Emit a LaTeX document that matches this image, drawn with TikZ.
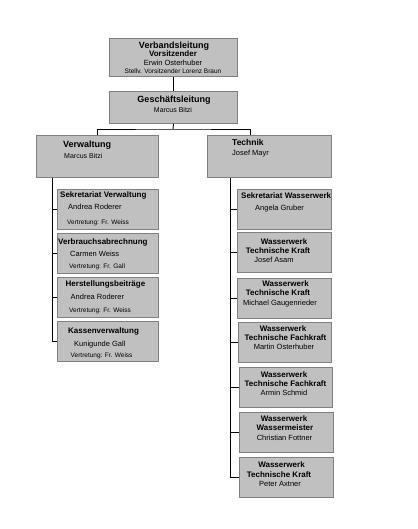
\documentclass[tikz,border=0pt]{standalone}
\usepackage{fontspec}
\setmainfont{Liberation Sans}
\usetikzlibrary{calc}
\definecolor{boxfill}{HTML}{C0C0C0}
\definecolor{boxline}{HTML}{808080}
\newcommand\fsz[1]{\fontsize{#1}{#1}\selectfont}
\tikzset{
  orgbox/.style={draw=boxline, fill=boxfill, line width=1pt, inner sep=0pt},
  link/.style={draw=black, line width=0.9pt},
  lbl/.style={inner sep=0pt, anchor=base west, text=black},
  clbl/.style={inner sep=0pt, anchor=base, text=black},
  ttl/.style={font=\fsz{9}\bfseries},
  sub/.style={font=\fsz{8}\bfseries},
  nm/.style={font=\fsz{7.5}},
  rep/.style={font=\fsz{6.5}}
}
\newcommand\orgrect[5]{% name, x1, y1, x2, y2
  \node[orgbox, minimum width={#4-#2}, minimum height={#5-#3}, anchor=north west] (#1) at (#2,#3) {};}
\begin{document}
\begin{tikzpicture}[x=1pt,y=-1pt]
\useasboundingbox (0,0) rectangle (417,529);
% boxes
\orgrect{vb}{109}{38}{237}{76}
\orgrect{gl}{109}{91}{237}{123}
\orgrect{vw}{36}{135}{158}{177}
\orgrect{tk}{207}{135}{331}{177}
\orgrect{sv}{57}{189}{158}{229}
\orgrect{va}{57}{233}{158}{273}
\orgrect{hb}{57}{277}{158}{317}
\orgrect{kv}{57}{321}{158}{361}
\orgrect{sw}{237}{189}{331}{229}
\orgrect{ja}{237}{232}{331}{272}
\orgrect{mg}{237}{278}{331}{318}
\orgrect{mo}{238}{322}{331}{362}
\orgrect{as}{239}{367}{332}{407}
\orgrect{cf}{239}{412}{333}{452}
\orgrect{pa}{239}{457}{333}{497}
% connectors
\coordinate (hj) at (173,129);
\coordinate (tkt) at ($(tk.north west)+(43,0)$);
\coordinate (vwb) at ($(vw.south west)+(16,0)$);
\coordinate (tkb) at ($(tk.south west)+(23,0)$);
\draw[link] (vb.south) -- (gl.north);
\draw[link] (gl.south) -- (hj);
\draw[link] (vw.north) |- (hj) -| (tkt);
\draw[link] (vwb) |- (kv.west);
\foreach \b in {sv,va,hb} { \draw[link] (\b.west) -- (\b.west -| vwb); }
\draw[link] (tkb) |- (pa.west);
\foreach \b in {sw,ja,mg,mo,as,cf} { \draw[link] (\b.west) -- (\b.west -| tkb); }
% top texts
\node[clbl, ttl] (t1) at (174,49) {Verbandsleitung};
\node[clbl, sub] (t2) at (173,57) {Vorsitzender};
\node[clbl, nm] (t3) at (173,65.5) {Erwin Osterhuber};
\node[clbl, rep] (t4) at (173,73.5) {Stellv. Vorsitzender Lorenz Braun};
\node[clbl, ttl] (t5) at (174,103) {Geschäftsleitung};
\node[clbl, font=\fsz{7}] (t6) at (173,113) {Marcus Bitzi};
% Verwaltung
\node[lbl, ttl] (t7) at (63,148) {Verwaltung};
\node[lbl, font=\fsz{7}] (t8) at (64,159) {Marcus Bitzi};
\node[lbl, sub] (t9) at (60,197.5) {Sekretariat Verwaltung};
\node[lbl, nm] (t10) at (68,209.5) {Andrea Roderer};
\node[lbl, rep] (t11) at (67,224.5) {Vertretung: Fr. Weiss};
\node[lbl, sub] (t12) at (58,244) {Verbrauchsabrechnung};
\node[lbl, nm] (t13) at (70,256.5) {Carmen Weiss};
\node[lbl, rep] (t14) at (69,268.5) {Vertretung: Fr. Gall};
\node[lbl, sub] (t15) at (65.5,286.5) {Herstellungsbeiträge};
\node[lbl, nm] (t16) at (70.5,299) {Andrea Roderer};
\node[lbl, rep] (t17) at (69,312.5) {Vertretung: Fr. Weiss};
\node[lbl, sub] (t18) at (68,333.5) {Kassenverwaltung};
\node[lbl, nm] (t19) at (74,346) {Kunigunde Gall};
\node[lbl, rep] (t20) at (70.5,357) {Vertretung: Fr. Weiss};
% Technik
\node[lbl, font=\fsz{8.5}\bfseries] (t21) at (232,146) {Technik};
\node[lbl, font=\fsz{7.5}] (t22) at (232,156) {Josef Mayr};
\node[lbl, sub] (t23) at (241,198) {Sekretariat Wasserwerk};
\node[lbl, nm] (t24) at (255,210) {Angela Gruber};
\node[clbl, sub] (t25) at (284,244.3) {Wasserwerk};
\node[clbl, sub] (t26) at (278,253.3) {Technische Kraft};
\node[clbl, nm] (t27) at (274,262.3) {Josef Asam};
\node[clbl, sub] (t28) at (285.5,286.7) {Wasserwerk};
\node[clbl, sub] (t29) at (278,295.7) {Technische Kraft};
\node[clbl, nm] (t30) at (280,305) {Michael Gaugenrieder};
\node[clbl, sub] (t31) at (283,331.7) {Wasserwerk};
\node[clbl, sub] (t32) at (285.5,340.7) {Technische Fachkraft};
\node[clbl, nm] (t33) at (284,349.3) {Martin Osterhuber};
\node[clbl, sub] (t34) at (284,377.3) {Wasserwerk};
\node[clbl, sub] (t35) at (285.5,386.7) {Technische Fachkraft};
\node[clbl, nm] (t36) at (284,395.7) {Armin Schmid};
\node[clbl, sub] (t37) at (284,421.7) {Wasserwerk};
\node[clbl, sub] (t38) at (285,430.7) {Wassermeister};
\node[clbl, nm] (t39) at (284.5,440) {Christian Fottner};
\node[clbl, sub] (t40) at (281.5,467.7) {Wasserwerk};
\node[clbl, sub] (t41) at (279,477.3) {Technische Kraft};
\node[clbl, nm] (t42) at (280,486.7) {Peter Axtner};
\end{tikzpicture}
\end{document}
